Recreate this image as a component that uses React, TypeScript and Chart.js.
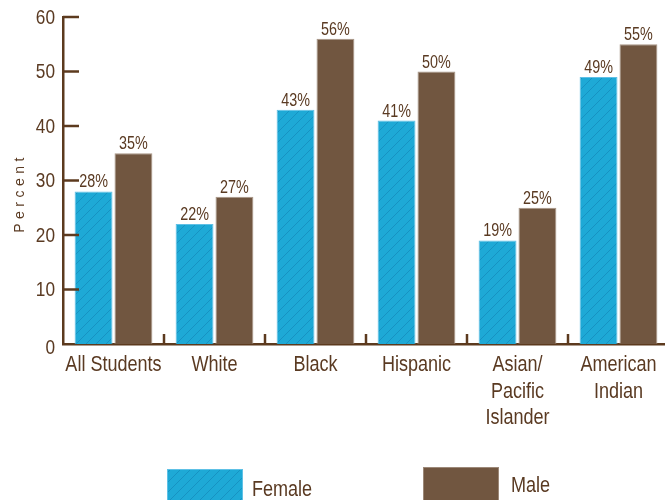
import React, { useEffect, useRef } from "react";
import { Chart, registerables } from "chart.js";

Chart.register(...registerables);

const categories: string[][] = [
  ["All Students"],
  ["White"],
  ["Black"],
  ["Hispanic"],
  ["Asian/", "Pacific", "Islander"],
  ["American", "Indian"],
];
const femaleValues = [28, 22, 43, 41, 19, 49];
const maleValues = [35, 27, 56, 50, 25, 55];
const yTicks = [0, 10, 20, 30, 40, 50, 60];
const seriesNames = ["Female", "Male"];

const FONT = '"Liberation Sans", Arial, sans-serif';
const NARROW = 0.82;
const TEXT = "#5A3A22";
const AXIS = "#5C3A1E";
const BLUE = "#1EA9D6";
const BROWN = "#715640";

function makeHatch(): CanvasPattern | string {
  const c = document.createElement("canvas");
  c.width = 10;
  c.height = 10;
  const ctx = c.getContext("2d");
  if (!ctx) return BLUE;
  ctx.fillStyle = BLUE;
  ctx.fillRect(0, 0, 10, 10);
  ctx.strokeStyle = "#1792C2";
  ctx.lineWidth = 1;
  ctx.beginPath();
  ctx.moveTo(-1, 11);
  ctx.lineTo(11, -1);
  ctx.moveTo(-1, 1);
  ctx.lineTo(1, -1);
  ctx.moveTo(9, 11);
  ctx.lineTo(11, 9);
  ctx.stroke();
  return ctx.createPattern(c, "repeat") || BLUE;
}

function narrowText(
  ctx: CanvasRenderingContext2D,
  text: string,
  x: number,
  y: number,
  size: number,
  align: CanvasTextAlign,
  baseline: CanvasTextBaseline
) {
  ctx.save();
  ctx.translate(x, y);
  ctx.scale(NARROW, 1);
  ctx.font = `${size}px ${FONT}`;
  ctx.textAlign = align;
  ctx.textBaseline = baseline;
  ctx.fillStyle = TEXT;
  ctx.fillText(text, 0, 0);
  ctx.restore();
}

export default function App() {
  const ref = useRef<HTMLCanvasElement>(null);
  useEffect(() => {
    document.body.style.margin = "0";
    document.body.style.overflow = "hidden";
    if (!ref.current) return;
    const hatch = makeHatch();

    const decor = {
      id: "decor",
      afterDatasetsDraw(chart: any) {
        const { ctx, chartArea, scales } = chart;
        const y = scales.y;
        const x = scales.x;
        ctx.save();
        // inward y ticks + labels
        ctx.strokeStyle = AXIS;
        ctx.lineWidth = 2.5;
        yTicks.forEach((v) => {
          const py = y.getPixelForValue(v);
          if (v !== 0) {
            ctx.beginPath();
            ctx.moveTo(chartArea.left, py);
            ctx.lineTo(chartArea.left + 16, py);
            ctx.stroke();
          }
          narrowText(ctx, String(v), chartArea.left - 8, v === 0 ? py + 4 : py + 1, 21, "right", "middle");
        });
        // category boundary ticks
        for (let i = 1; i < categories.length; i++) {
          const px = (x.getPixelForValue(i - 1) + x.getPixelForValue(i)) / 2;
          ctx.beginPath();
          ctx.moveTo(px, chartArea.bottom);
          ctx.lineTo(px, chartArea.bottom - 10);
          ctx.stroke();
        }
        // category labels
        categories.forEach((lines, i) => {
          const px = x.getPixelForValue(i);
          lines.forEach((ln, j) => {
            narrowText(ctx, ln, px, chartArea.bottom + 21 + j * 26.5, 22, "center", "middle");
          });
        });
        // value labels
        chart.data.datasets.forEach((ds: any, di: number) => {
          const meta = chart.getDatasetMeta(di);
          meta.data.forEach((bar: any, i: number) => {
            narrowText(ctx, ds.data[i] + "%", bar.x, bar.y - 4, 17.5, "center", "alphabetic");
          });
        });
        // y title
        ctx.save();
        ctx.translate(20, 195);
        ctx.rotate(-Math.PI / 2);
        ctx.font = `14px ${FONT}`;
        (ctx as any).letterSpacing = "4.5px";
        ctx.textBaseline = "middle";
        ctx.textAlign = "center";
        ctx.fillStyle = TEXT;
        ctx.fillText("Percent", 2, 0);
        ctx.restore();
        // legend
        const fills = [hatch, BROWN];
        const boxes = [
          { x: 167, y: 469, tx: 252, ty: 490 },
          { x: 423, y: 467, tx: 511, ty: 486 },
        ];
        boxes.forEach((b, i) => {
          ctx.fillStyle = fills[i];
          ctx.fillRect(b.x, b.y, 76, 40);
          ctx.strokeStyle = i === 0 ? "#5EC1E6" : "#9C8878";
          ctx.lineWidth = 1;
          ctx.strokeRect(b.x + 0.5, b.y + 0.5, 75, 40);
          narrowText(ctx, seriesNames[i], b.tx, b.ty, 22, "left", "middle");
        });
        ctx.restore();
      },
    };

    const chart = new Chart(ref.current, {
      type: "bar",
      data: {
        labels: categories.map((c) => c.join(" ")),
        datasets: [
          {
            label: seriesNames[0],
            data: femaleValues,
            backgroundColor: hatch as any,
            borderColor: "#5FC0E6",
            borderWidth: 1,
            categoryPercentage: 0.79,
            barPercentage: 0.95,
          },
          {
            label: seriesNames[1],
            data: maleValues,
            backgroundColor: BROWN,
            borderColor: "#A89686",
            borderWidth: 1,
            categoryPercentage: 0.79,
            barPercentage: 0.95,
          },
        ],
      },
      options: {
        animation: false,
        responsive: false,
        maintainAspectRatio: false,
        layout: { padding: { top: 17, left: 0, right: 0, bottom: 0 } },
        plugins: { legend: { display: false }, tooltip: { enabled: false } },
        scales: {
          x: {
            grid: { display: false, drawTicks: false },
            border: { display: true, color: AXIS, width: 2.5 },
            ticks: { display: false },
            afterFit(scale: any) {
              scale.height = 156;
            },
          },
          y: {
            min: 0,
            max: 60,
            grid: { display: false, drawTicks: false },
            border: { display: true, color: AXIS, width: 2.5 },
            ticks: { display: false, stepSize: 10 },
            afterFit(scale: any) {
              scale.width = 63;
            },
          },
        },
      },
      plugins: [decor],
    });
    return () => chart.destroy();
  }, []);
  return <canvas ref={ref} width={669} height={500} style={{ display: "block" }} />;
}
